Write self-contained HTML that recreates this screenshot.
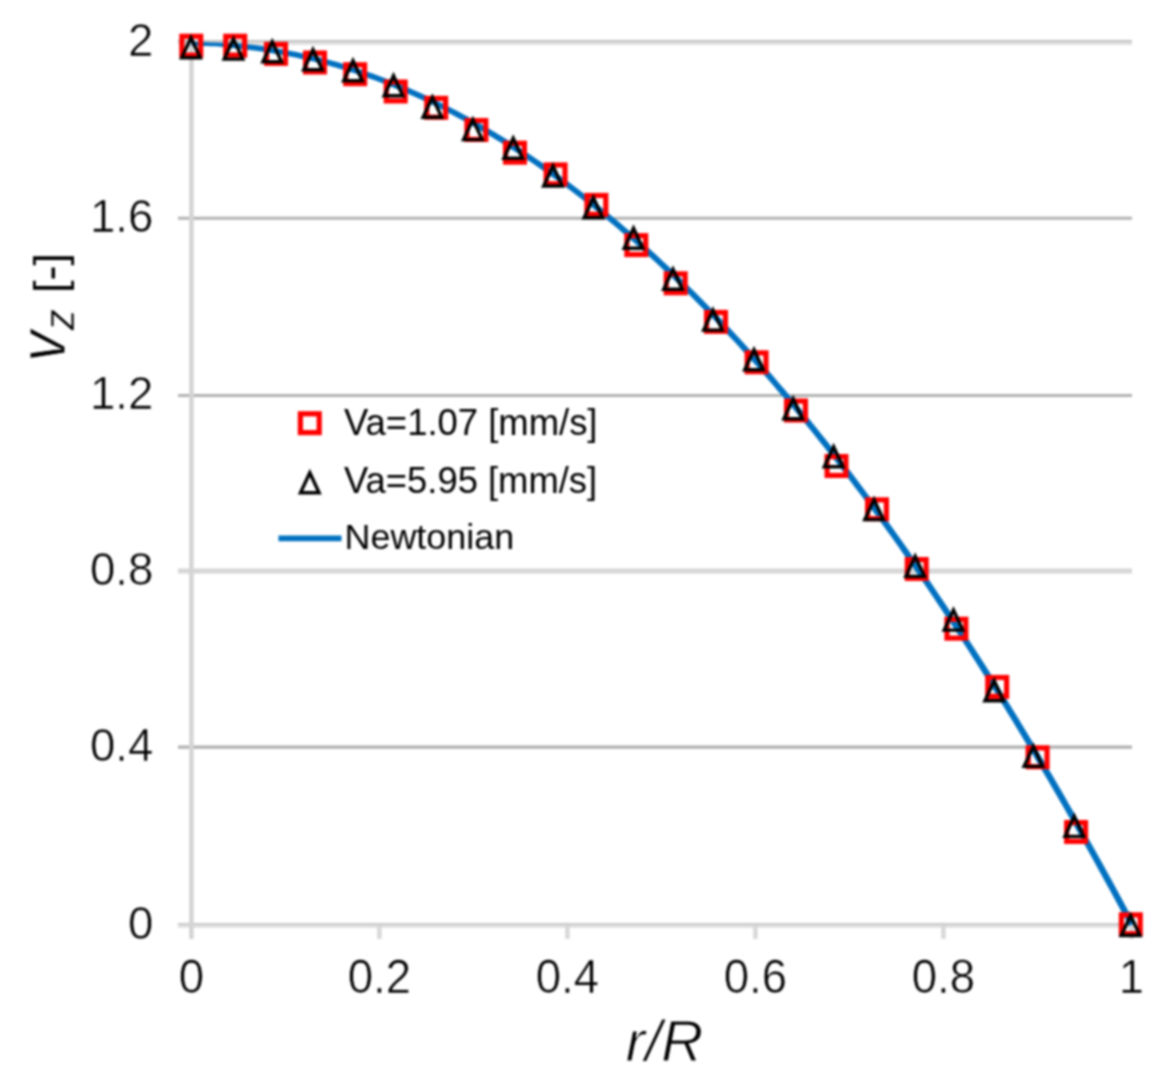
<!DOCTYPE html>
<html lang="en">
<head>
<meta charset="utf-8">
<title>Velocity profile</title>
<style>
html,body{margin:0;padding:0;background:#fff;}
body{width:1165px;height:1077px;overflow:hidden;}
svg{display:block;filter:blur(0.8px);}
text{font-family:"Liberation Sans",Arial,Helvetica,sans-serif;fill:#000;}
.tick{font-size:45.6px;stroke:#fff;stroke-width:0.6px;}
.leg{font-size:36.3px;}
.it{font-style:italic;stroke:#fff;stroke-width:1.0px;}
</style>
</head>
<body>
<svg width="1165" height="1077" viewBox="0 0 1165 1077">
<rect x="0" y="0" width="1165" height="1077" fill="#ffffff"/>

<g fill="none">
<line x1="178" x2="1132" y1="41.3" y2="41.3" stroke="#c2c2c2" stroke-width="2.4"/>
<line x1="178" x2="1132" y1="43.7" y2="43.7" stroke="#e0e0e0" stroke-width="2.4"/>
<line x1="178" x2="1132" y1="218.3" y2="218.3" stroke="#b2b2b2" stroke-width="3.0"/>
<line x1="178" x2="1132" y1="395.5" y2="395.5" stroke="#b2b2b2" stroke-width="3.0"/>
<line x1="178" x2="1132" y1="571.0" y2="571.0" stroke="#d6d6d6" stroke-width="5.0"/>
<line x1="178" x2="1132" y1="747.2" y2="747.2" stroke="#b0b0b0" stroke-width="3.2"/>
<line x1="178" x2="1132" y1="924.2" y2="924.2" stroke="#c9c9c9" stroke-width="2.6"/>
<line x1="178" x2="1132" y1="926.6" y2="926.6" stroke="#dedede" stroke-width="2.4"/>
<line x1="191.4" x2="191.4" y1="40" y2="939" stroke="#d4d4d4" stroke-width="4.6"/>
<line x1="379.4" x2="379.4" y1="925" y2="939" stroke="#d8d8d8" stroke-width="4.4"/>
<line x1="567.4" x2="567.4" y1="925" y2="939" stroke="#d8d8d8" stroke-width="4.4"/>
<line x1="755.4" x2="755.4" y1="925" y2="939" stroke="#d8d8d8" stroke-width="4.4"/>
<line x1="943.4" x2="943.4" y1="925" y2="939" stroke="#d8d8d8" stroke-width="4.4"/>
<line x1="1131.4" x2="1131.4" y1="925" y2="939" stroke="#d8d8d8" stroke-width="4.4"/>
</g>
<path d="M191.40,42.00 L195.33,42.02 L199.27,42.06 L203.20,42.14 L207.14,42.25 L211.07,42.38 L215.00,42.55 L218.94,42.75 L222.88,42.84 L226.83,42.92 L230.78,43.03 L234.73,43.17 L238.69,43.34 L242.63,43.72 L246.57,44.14 L250.51,44.58 L254.45,45.06 L258.39,45.56 L262.33,46.10 L266.27,46.66 L270.21,47.26 L274.15,47.89 L278.09,48.55 L282.03,49.24 L285.97,49.96 L289.91,50.71 L293.85,51.49 L297.79,52.31 L301.73,53.15 L305.67,54.02 L309.61,54.93 L313.55,55.86 L317.49,56.83 L321.43,57.83 L325.37,58.86 L329.31,59.91 L333.25,61.00 L337.19,62.12 L341.13,63.27 L345.07,64.46 L349.01,65.67 L352.95,66.91 L356.89,68.18 L360.82,69.49 L364.76,70.82 L368.70,72.19 L372.64,73.58 L376.58,75.01 L380.52,76.47 L384.45,77.96 L388.39,79.48 L392.33,81.03 L396.27,82.61 L400.20,84.22 L404.14,85.86 L408.08,87.53 L412.02,89.23 L415.95,90.97 L419.89,92.73 L423.83,94.53 L427.76,96.35 L431.70,98.21 L435.64,100.09 L439.57,102.01 L443.51,103.96 L447.44,105.94 L451.38,107.95 L455.32,109.99 L459.25,112.06 L463.19,114.16 L467.12,116.29 L471.06,118.45 L474.99,120.65 L478.93,122.87 L482.86,125.13 L486.80,127.41 L490.73,129.73 L494.67,132.07 L498.60,134.45 L502.53,136.86 L506.47,139.30 L510.40,141.76 L514.34,144.26 L518.27,146.79 L522.20,149.35 L526.14,151.95 L530.07,154.57 L534.00,157.22 L537.94,159.90 L541.87,162.62 L545.80,165.36 L549.74,168.13 L553.67,170.94 L557.60,173.78 L561.53,176.64 L565.46,179.54 L569.40,182.47 L573.33,185.43 L577.26,188.41 L581.19,191.43 L585.12,194.48 L589.06,197.56 L592.99,200.68 L596.92,203.82 L600.85,206.99 L604.78,210.19 L608.71,213.43 L612.64,216.69 L616.57,219.98 L620.50,223.31 L624.43,226.66 L628.36,230.05 L632.29,233.47 L636.22,236.92 L640.15,240.39 L644.08,243.90 L648.01,247.44 L651.94,251.01 L655.87,254.61 L659.80,258.24 L663.73,261.90 L667.66,265.60 L671.59,269.32 L675.52,273.07 L679.45,276.85 L683.38,280.67 L687.31,284.51 L691.24,288.39 L695.17,292.29 L699.09,296.23 L703.02,300.20 L706.95,304.20 L710.88,308.22 L714.81,312.28 L718.74,316.37 L722.67,320.49 L726.59,324.64 L730.52,328.82 L734.45,333.03 L738.38,337.28 L742.31,341.55 L746.23,345.85 L750.16,350.19 L754.09,354.55 L758.02,358.94 L761.94,363.37 L765.87,367.83 L769.80,372.31 L773.73,376.83 L777.65,381.38 L781.58,385.95 L785.51,390.56 L789.43,395.20 L793.36,399.87 L797.29,404.57 L801.21,409.30 L805.14,414.06 L809.07,418.86 L812.99,423.68 L816.92,428.53 L820.85,433.42 L824.77,438.33 L828.70,443.27 L832.63,448.25 L836.55,453.26 L840.48,458.29 L844.40,463.36 L848.33,468.46 L852.26,473.58 L856.18,478.74 L860.11,483.93 L864.03,489.15 L867.96,494.40 L871.89,499.68 L875.81,504.99 L879.74,510.34 L883.66,515.71 L887.59,521.11 L891.51,526.54 L895.44,532.01 L899.37,537.50 L903.29,543.03 L907.22,548.58 L911.14,554.17 L915.07,559.79 L918.99,565.43 L922.92,571.11 L926.84,576.82 L930.77,582.56 L934.69,588.33 L938.62,594.13 L942.54,599.96 L946.47,605.82 L950.39,611.71 L954.32,617.64 L958.24,623.59 L962.17,629.57 L966.09,635.59 L970.02,641.63 L973.94,647.71 L977.86,653.81 L981.79,659.95 L985.71,666.11 L989.64,672.31 L993.56,678.54 L997.49,684.80 L1001.41,691.09 L1005.34,697.41 L1009.26,703.76 L1013.18,710.14 L1017.11,716.55 L1021.03,722.99 L1024.96,729.46 L1028.88,735.97 L1032.81,742.50 L1036.73,749.06 L1040.65,755.66 L1044.58,762.28 L1048.50,768.94 L1052.43,775.62 L1056.35,782.34 L1060.27,789.09 L1064.20,795.87 L1068.12,802.67 L1072.04,809.51 L1075.97,816.38 L1079.89,823.28 L1083.82,830.21 L1087.74,837.17 L1091.66,844.17 L1095.59,851.19 L1099.51,858.24 L1103.43,865.33 L1107.36,872.44 L1111.28,879.58 L1115.21,886.76 L1119.13,893.96 L1123.05,901.20 L1126.98,908.47 L1130.90,915.76 L1134.82,923.09 L1129.18,926.11 L1125.26,918.79 L1121.35,911.50 L1117.43,904.24 L1113.52,897.01 L1109.60,889.81 L1105.69,882.65 L1101.77,875.51 L1097.86,868.41 L1093.94,861.33 L1090.03,854.29 L1086.11,847.27 L1082.20,840.29 L1078.29,833.34 L1074.37,826.41 L1070.46,819.52 L1066.54,812.66 L1062.63,805.83 L1058.71,799.03 L1054.80,792.26 L1050.88,785.52 L1046.97,778.82 L1043.06,772.14 L1039.14,765.49 L1035.23,758.88 L1031.31,752.29 L1027.40,745.74 L1023.48,739.21 L1019.57,732.72 L1015.66,726.26 L1011.74,719.82 L1007.83,713.42 L1003.91,707.05 L1000.00,700.71 L996.09,694.40 L992.17,688.12 L988.26,681.87 L984.34,675.65 L980.43,669.47 L976.52,663.31 L972.60,657.18 L968.69,651.09 L964.77,645.02 L960.86,638.99 L956.95,632.98 L953.03,627.01 L949.12,621.07 L945.21,615.16 L941.29,609.27 L937.38,603.42 L933.47,597.60 L929.55,591.81 L925.64,586.05 L921.73,580.33 L917.81,574.63 L913.90,568.96 L909.99,563.32 L906.07,557.72 L902.16,552.14 L898.25,546.60 L894.33,541.08 L890.42,535.60 L886.51,530.15 L882.60,524.73 L878.68,519.33 L874.77,513.97 L870.86,508.64 L866.95,503.34 L863.03,498.07 L859.12,492.83 L855.21,487.63 L851.30,482.45 L847.38,477.30 L843.47,472.19 L839.56,467.10 L835.65,462.05 L831.73,457.02 L827.82,452.03 L823.91,447.06 L820.00,442.13 L816.09,437.23 L812.17,432.36 L808.26,427.52 L804.35,422.71 L800.44,417.93 L796.53,413.18 L792.62,408.46 L788.70,403.77 L784.79,399.11 L780.88,394.49 L776.97,389.89 L773.06,385.33 L769.15,380.79 L765.24,376.29 L761.33,371.81 L757.41,367.37 L753.50,362.96 L749.59,358.58 L745.68,354.23 L741.77,349.91 L737.86,345.62 L733.95,341.36 L730.04,337.13 L726.13,332.93 L722.22,328.76 L718.31,324.63 L714.40,320.52 L710.49,316.44 L706.58,312.40 L702.67,308.39 L698.76,304.40 L694.85,300.45 L690.94,296.53 L687.03,292.63 L683.12,288.77 L679.21,284.94 L675.30,281.14 L671.39,277.37 L667.48,273.63 L663.58,269.92 L659.67,266.25 L655.76,262.60 L651.85,258.98 L647.94,255.40 L644.03,251.84 L640.12,248.32 L636.22,244.82 L632.31,241.36 L628.40,237.93 L624.49,234.52 L620.58,231.15 L616.68,227.81 L612.77,224.50 L608.86,221.22 L604.95,217.97 L601.04,214.75 L597.14,211.56 L593.23,208.40 L589.32,205.28 L585.42,202.18 L581.51,199.12 L577.60,196.08 L573.70,193.07 L569.79,190.10 L565.88,187.16 L561.98,184.24 L558.07,181.36 L554.16,178.51 L550.26,175.69 L546.35,172.90 L542.45,170.14 L538.54,167.41 L534.64,164.71 L530.73,162.04 L526.83,159.40 L522.92,156.79 L519.02,154.22 L515.11,151.67 L511.21,149.16 L507.30,146.67 L503.40,144.22 L499.49,141.79 L495.59,139.40 L491.69,137.04 L487.78,134.70 L483.88,132.40 L479.97,130.13 L476.07,127.89 L472.17,125.68 L468.26,123.50 L464.36,121.35 L460.46,119.23 L456.55,117.14 L452.65,115.08 L448.75,113.06 L444.85,111.06 L440.94,109.10 L437.04,107.16 L433.14,105.25 L429.24,103.38 L425.34,101.54 L421.43,99.72 L417.53,97.94 L413.63,96.19 L409.73,94.47 L405.83,92.77 L401.93,91.11 L398.03,89.48 L394.13,87.88 L390.23,86.31 L386.32,84.77 L382.42,83.27 L378.52,81.79 L374.62,80.34 L370.72,78.92 L366.82,77.54 L362.92,76.18 L359.02,74.85 L355.12,73.56 L351.22,72.29 L347.33,71.06 L343.43,69.86 L339.53,68.68 L335.63,67.54 L331.73,66.43 L327.83,65.35 L323.93,64.29 L320.03,63.27 L316.13,62.28 L312.23,61.32 L308.34,60.39 L304.44,59.49 L300.54,58.63 L296.64,57.79 L292.74,56.98 L288.84,56.20 L284.95,55.45 L281.05,54.74 L277.15,54.05 L273.25,53.40 L269.35,52.77 L265.46,52.18 L261.56,51.61 L257.66,51.08 L253.76,50.57 L249.86,50.10 L245.97,49.66 L242.07,49.24 L238.17,48.86 L234.29,48.33 L230.40,47.83 L226.52,47.36 L222.63,46.92 L218.73,46.55 L214.83,46.35 L210.92,46.18 L207.02,46.04 L203.11,45.94 L199.21,45.86 L195.30,45.82 L191.40,45.80 Z" fill="#0070c0" stroke="none"/>
<g fill="none" stroke="#ff0000" stroke-width="5.2">
<rect x="181.9" y="36.3" width="18.8" height="18.8"/>
<rect x="225.8" y="36.3" width="18.8" height="18.8"/>
<rect x="266.6" y="44.5" width="18.8" height="18.8"/>
<rect x="305.6" y="53.1" width="18.8" height="18.8"/>
<rect x="345.8" y="64.8" width="18.8" height="18.8"/>
<rect x="386.3" y="82.1" width="18.8" height="18.8"/>
<rect x="426.8" y="98.4" width="18.8" height="18.8"/>
<rect x="467.0" y="120.6" width="18.8" height="18.8"/>
<rect x="505.6" y="143.3" width="18.8" height="18.8"/>
<rect x="546.2" y="165.0" width="18.8" height="18.8"/>
<rect x="587.0" y="195.5" width="18.8" height="18.8"/>
<rect x="626.9" y="235.7" width="18.8" height="18.8"/>
<rect x="666.3" y="273.9" width="18.8" height="18.8"/>
<rect x="706.6" y="312.5" width="18.8" height="18.8"/>
<rect x="747.2" y="352.9" width="18.8" height="18.8"/>
<rect x="786.6" y="401.1" width="18.8" height="18.8"/>
<rect x="827.1" y="456.6" width="18.8" height="18.8"/>
<rect x="867.6" y="499.9" width="18.8" height="18.8"/>
<rect x="907.3" y="559.6" width="18.8" height="18.8"/>
<rect x="947.0" y="619.3" width="18.8" height="18.8"/>
<rect x="987.8" y="677.5" width="18.8" height="18.8"/>
<rect x="1028.2" y="747.9" width="18.8" height="18.8"/>
<rect x="1066.7" y="822.6" width="18.8" height="18.8"/>
<rect x="1121.4" y="914.9" width="18.8" height="18.8"/>
</g>
<g fill="none" stroke="#000000" stroke-width="3.4" stroke-linejoin="miter" stroke-miterlimit="10">
<path d="M191.0,37.8 L200.3,57.8 L181.7,57.8 Z"/>
<path d="M233.5,39.1 L242.8,59.1 L224.2,59.1 Z"/>
<path d="M272.2,41.7 L281.5,61.7 L262.9,61.7 Z"/>
<path d="M313.0,49.8 L322.3,69.8 L303.7,69.8 Z"/>
<path d="M353.0,60.7 L362.3,80.7 L343.7,80.7 Z"/>
<path d="M393.5,75.8 L402.8,95.8 L384.2,95.8 Z"/>
<path d="M432.4,97.2 L441.7,117.2 L423.1,117.2 Z"/>
<path d="M472.9,119.6 L482.2,139.6 L463.6,139.6 Z"/>
<path d="M513.2,138.2 L522.5,158.2 L503.9,158.2 Z"/>
<path d="M553.0,166.0 L562.3,186.0 L543.7,186.0 Z"/>
<path d="M593.4,197.8 L602.7,217.8 L584.1,217.8 Z"/>
<path d="M633.5,228.3 L642.8,248.3 L624.2,248.3 Z"/>
<path d="M673.0,269.3 L682.3,289.3 L663.7,289.3 Z"/>
<path d="M713.0,310.1 L722.3,330.1 L703.7,330.1 Z"/>
<path d="M754.0,349.8 L763.3,369.8 L744.7,369.8 Z"/>
<path d="M793.2,398.7 L802.5,418.7 L783.9,418.7 Z"/>
<path d="M833.6,446.8 L842.9,466.8 L824.3,466.8 Z"/>
<path d="M874.1,499.6 L883.4,519.6 L864.8,519.6 Z"/>
<path d="M915.2,556.4 L924.5,576.4 L905.9,576.4 Z"/>
<path d="M953.5,610.1 L962.8,630.1 L944.2,630.1 Z"/>
<path d="M994.2,680.7 L1003.5,700.7 L984.9,700.7 Z"/>
<path d="M1033.4,746.4 L1042.7,766.4 L1024.1,766.4 Z"/>
<path d="M1074.3,816.4 L1083.6,836.4 L1065.0,836.4 Z"/>
<path d="M1130.6,915.5 L1139.9,935.5 L1121.3,935.5 Z"/>
</g>
<g class="tick" text-anchor="end">
<text transform="translate(153.3,56.0) scale(1,1.02)">2</text>
<text transform="translate(153.3,232.1) scale(1,1.02)">1.6</text>
<text transform="translate(153.3,409.3) scale(1,1.02)">1.2</text>
<text transform="translate(153.3,584.8) scale(1,1.02)">0.8</text>
<text transform="translate(153.3,761.0) scale(1,1.02)">0.4</text>
<text transform="translate(153.3,939.1) scale(1,1.02)">0</text>
</g>
<g class="tick" text-anchor="middle">
<text transform="translate(191.4,992.8) scale(1,1.06)">0</text>
<text transform="translate(379.4,992.8) scale(1,1.06)">0.2</text>
<text transform="translate(567.4,992.8) scale(1,1.06)">0.4</text>
<text transform="translate(755.4,992.8) scale(1,1.06)">0.6</text>
<text transform="translate(943.4,992.8) scale(1,1.06)">0.8</text>
<text transform="translate(1131.4,992.8) scale(1,1.06)">1</text>
</g>
<text class="it" x="664.5" y="1061.2" font-size="58" text-anchor="middle">r/R</text>
<g transform="translate(65.5,360) rotate(-90)">
<text class="it" transform="translate(-1.8,-0.3) scale(0.94,1)" font-size="66">v</text>
<text class="it" x="29.8" y="8.5" font-size="42" style="stroke-width:0.5px">z</text>
<text x="67" y="-1" font-size="45">[-]</text>
</g>
<g fill="none" stroke="#ff0000" stroke-width="5.2"><rect x="300.4" y="413.8" width="18.8" height="18.8"/></g>
<text class="leg" x="344" y="434.7" style="font-size:36.45px">Va=1.07 [mm/s]</text>
<g fill="none" stroke="#000" stroke-width="3.4" stroke-miterlimit="10"><path d="M309.8,472.7 L319.1,492.7 L300.5,492.7 Z"/></g>
<text class="leg" x="344" y="492.8" style="font-size:36.4px">Va=5.95 [mm/s]</text>
<line x1="278.5" x2="341.5" y1="538.4" y2="538.4" stroke="#0070c0" stroke-width="5.6"/>
<text class="leg" x="344.5" y="548.8" style="font-size:35.9px">Newtonian</text>
</svg>
</body>
</html>
